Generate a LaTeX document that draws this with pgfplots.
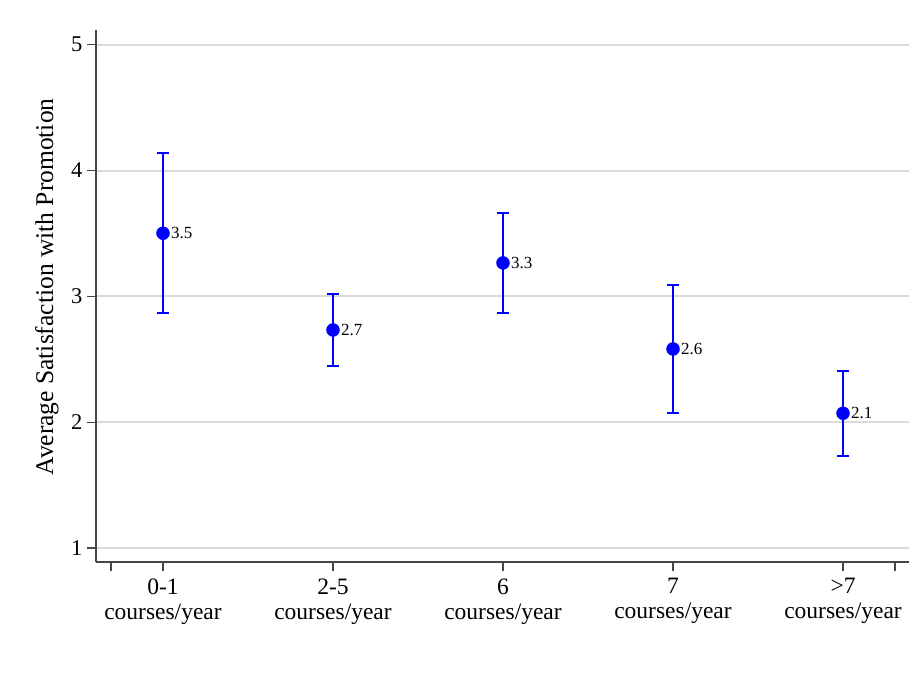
\documentclass[border=0pt]{standalone}
\usepackage{fontspec}
\setmainfont{Liberation Serif}
\usepackage{pgfplots}
\pgfplotsset{compat=1.18}
\usepackage{pgfplotstable}
\definecolor{gridgray}{RGB}{218,218,218}
\definecolor{axgray}{RGB}{70,70,70}
\pgfplotstableread{
x y ep em
1 3.502 0.640 0.636
2 2.733 0.284 0.286
3 3.266 0.397 0.398
4 2.582 0.511 0.511
5 2.071 0.338 0.340
}\data
\begin{document}
\begin{tikzpicture}
\begin{axis}[
  at={(0pt,0pt)}, anchor=south west,
  scale only axis, width=813pt, height=532pt,
  xmin=0.606, xmax=5.388, ymin=0.889, ymax=5.117,
  axis x line*=bottom, axis y line*=left,
  axis line style={axgray, line width=1.4pt},
  tick style={axgray, line width=1.2pt},
  major tick length=9pt, tick align=outside,
  ytick={1,2,3,4,5},
  xtick={1,2,3,4,5},
  xticklabels={{0-1\\courses/year},{2-5\\courses/year},{6\\courses/year},{7\\courses/year},{>7\\courses/year}},
  extra x ticks={0.694,5.306}, extra x tick labels={},
  extra x tick style={grid=none},
  ymajorgrids, grid style={gridgray, line width=2pt},
  /pgf/number format/assume math mode=true,
  /pgf/number format/fixed, /pgf/number format/precision=1,
  tick label style={font=\fontsize{22.5}{25}\selectfont},
  yticklabel style={xshift=-1pt},
  xticklabel style={align=center, yshift=-4pt, font=\fontsize{23.5}{25}\selectfont},
  ylabel={Average Satisfaction with Promotion},
  every axis y label/.style={at={(axis description cs:-0.0603,0.517)}, rotate=90, anchor=center, font=\fontsize{25.5}{26}\selectfont},
  nodes near coords,
  nodes near coords style={anchor=west, xshift=7pt, inner sep=1pt, font=\fontsize{17}{17}\selectfont, text=black},
]
\addplot[only marks, mark=*, blue, mark size=6.5pt,
  error bars/.cd, y dir=both, y explicit,
  error bar style={line width=2.3pt, blue},
  error mark options={rotate=90, blue, line width=2.3pt, mark size=6pt}]
  table[x=x, y=y, y error plus=ep, y error minus=em]{\data};
\end{axis}
\path (-96pt,-112pt) rectangle (826pt,562pt);
\end{tikzpicture}
\end{document}
